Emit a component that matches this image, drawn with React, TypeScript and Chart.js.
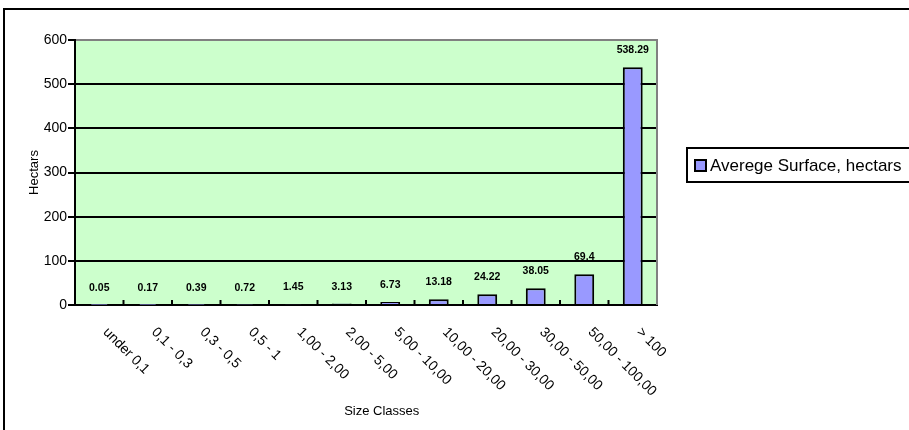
import React, { useEffect, useRef } from "react";
import { Chart, registerables } from "chart.js";

Chart.register(...registerables);

const categories = [
  "under 0,1",
  "0,1 - 0,3",
  "0,3 - 0,5",
  "0,5 - 1",
  "1,00 - 2,00",
  "2,00 - 5,00",
  "5,00 - 10,00",
  "10,00 - 20,00",
  "20,00 - 30,00",
  "30,00 - 50,00",
  "50,00 - 100,00",
  "> 100",
];
const averageSurface = [0.05, 0.17, 0.39, 0.72, 1.45, 3.13, 6.73, 13.18, 24.22, 38.05, 69.4, 538.29];
const seriesLabel = "Averege Surface, hectars";
const yMin = 0;
const yMax = 600;
const yStep = 100;
const xTitle = "Size Classes";
const yTitle = "Hectars";

const FONT = "'Liberation Sans', Arial, sans-serif";
const BAR_FILL = "#9999FF";
const PLOT_BG = "#CCFFCC";

const decor = {
  id: "decor",
  beforeDraw(chart: any) {
    const { ctx, chartArea: a, width, height } = chart;
    ctx.save();
    ctx.fillStyle = "#ffffff";
    ctx.fillRect(0, 0, width, height);
    ctx.strokeStyle = "#000";
    ctx.lineWidth = 2;
    ctx.strokeRect(4, 9, width + 40, height + 40);
    ctx.fillStyle = PLOT_BG;
    ctx.fillRect(a.left, a.top, a.right - a.left, a.bottom - a.top);
    ctx.restore();
  },
  afterDraw(chart: any) {
    const { ctx, chartArea: a } = chart;
    const xs = chart.scales.x;
    ctx.save();
    // right plot border
    ctx.strokeStyle = "#808080";
    ctx.lineWidth = 2;
    ctx.beginPath();
    ctx.moveTo(a.right, a.top - 1);
    ctx.lineTo(a.right, a.bottom);
    ctx.stroke();

    // x tick marks between categories (inside)
    ctx.strokeStyle = "#000";
    ctx.lineWidth = 2;
    for (let i = 1; i < categories.length; i++) {
      const bx = (xs.getPixelForValue(i - 1) + xs.getPixelForValue(i)) / 2;
      ctx.beginPath();
      ctx.moveTo(bx, a.bottom);
      ctx.lineTo(bx, a.bottom - 5);
      ctx.stroke();
    }

    // rotated x labels
    ctx.fillStyle = "#000";
    ctx.font = `14px ${FONT}`;
    ctx.textAlign = "left";
    ctx.textBaseline = "middle";
    categories.forEach((c, i) => {
      const x = xs.getPixelForValue(i);
      ctx.save();
      ctx.translate(x + 6, a.bottom + 25);
      ctx.rotate(Math.PI / 4);
      ctx.fillText(c, 0, 0);
      ctx.restore();
    });

    // x title
    ctx.font = `13px ${FONT}`;
    ctx.textAlign = "center";
    ctx.fillText(xTitle, a.left + (a.right - a.left) * 0.527, 411);

    // data labels
    ctx.font = `bold 10.5px ${FONT}`;
    const meta = chart.getDatasetMeta(0);
    meta.data.forEach((bar: any, i: number) => {
      ctx.fillText(String(averageSurface[i]), bar.x, bar.y - 17);
    });

    // legend
    ctx.strokeStyle = "#000";
    ctx.lineWidth = 2;
    ctx.strokeRect(687, 148, 300, 34);
    ctx.fillStyle = BAR_FILL;
    ctx.fillRect(694, 159, 13, 13);
    ctx.strokeRect(695, 160, 11, 11);
    ctx.fillStyle = "#000";
    ctx.font = `17px ${FONT}`;
    ctx.textAlign = "left";
    ctx.textBaseline = "middle";
    ctx.fillText(seriesLabel, 710, 166);
    ctx.restore();
  },
};

export default function App() {
  const ref = useRef<HTMLCanvasElement | null>(null);
  useEffect(() => {
    if (!ref.current) return;
    const chart = new Chart(ref.current, {
      type: "bar",
      data: {
        labels: categories,
        datasets: [
          {
            label: seriesLabel,
            data: averageSurface,
            backgroundColor: BAR_FILL,
            borderColor: "#000",
            borderWidth: 2,
            categoryPercentage: 1,
            barPercentage: 0.41,
          },
        ],
      },
      options: {
        responsive: false,
        animation: false,
        devicePixelRatio: 1,
        layout: { padding: { left: 24, top: 40, right: 252, bottom: 10 } },
        plugins: {
          legend: { display: false },
          tooltip: { enabled: false },
          title: { display: false },
        },
        scales: {
          x: {
            afterFit(scale: any) {
              scale.height = 115;
            },
            grid: { display: false },
            border: { display: true, color: "#000", width: 2 },
            ticks: { display: false },
          },
          y: {
            min: yMin,
            max: yMax,
            afterFit(scale: any) {
              scale.width = 51;
            },
            ticks: {
              stepSize: yStep,
              color: "#000",
              padding: 1,
              font: { family: FONT, size: 14 },
            },
            grid: {
              color: (c: any) => (c.tick && c.tick.value === yMax ? "#808080" : "#000"),
              lineWidth: 2,
              tickLength: 7,
              tickColor: "#000",
              tickWidth: 2,
            },
            border: { display: true, color: "#000", width: 2 },
            title: {
              display: true,
              text: yTitle,
              color: "#000",
              font: { family: FONT, size: 13 },
              padding: { top: 3, bottom: 0 },
            },
          },
        },
      },
      plugins: [decor],
    });
    return () => chart.destroy();
  }, []);
  return (
    <div style={{ position: "absolute", left: 0, top: 0, width: 909, height: 430 }}>
      <canvas ref={ref} width={909} height={430} style={{ width: 909, height: 430 }} />
    </div>
  );
}
